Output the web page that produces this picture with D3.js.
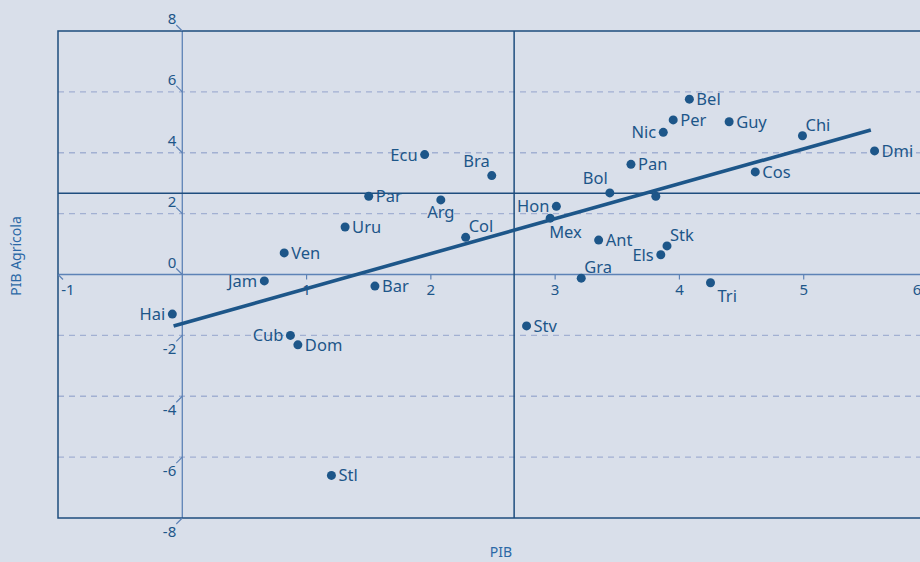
<!DOCTYPE html>
<html>
<head>
<meta charset="utf-8">
<script src="https://cdn.jsdelivr.net/npm/d3@7"></script>
<style>
  body { margin: 0; background: #d9dfea; }
  svg { display: block; font-family: "Noto Sans", "Open Sans", sans-serif; }
</style>
</head>
<body>
<div id="chart"></div>
<script>
// country codes, PIB growth (x) and agricultural PIB growth (y)
const countries = ["Hai", "Jam", "Ven", "Cub", "Dom", "Uru", "Stl", "Par", "Bar", "Ecu",
  "Arg", "Col", "Bra", "Stv", "Mex", "Hon", "Gra", "Ant", "Bol", "Pan",
  "", "Els", "Nic", "Stk", "Per", "Bel", "Tri", "Guy", "Cos", "Chi", "Dmi"];
const pib = [-0.08, 0.66, 0.82, 0.87, 0.93, 1.31, 1.20, 1.50, 1.55, 1.95,
  2.08, 2.28, 2.49, 2.77, 2.96, 3.01, 3.21, 3.35, 3.44, 3.61,
  3.81, 3.85, 3.87, 3.90, 3.95, 4.08, 4.25, 4.40, 4.61, 4.99, 5.57];
const pibAgricola = [-1.30, -0.21, 0.71, -2.00, -2.31, 1.56, -6.60, 2.57, -0.38, 3.94,
  2.45, 1.22, 3.25, -1.69, 1.85, 2.24, -0.12, 1.13, 2.68, 3.62,
  2.57, 0.65, 4.67, 0.94, 5.08, 5.76, -0.27, 5.02, 3.37, 4.56, 4.06];
// where the label sits relative to its dot
const labelPos = ["left", "left", "right", "left", "right", "right", "right", "right", "right", "left",
  "below", "aboveRight", "aboveLeft", "right", "belowStart", "left", "aboveRight", "right", "aboveLeft", "right",
  "right", "left", "left", "aboveRight", "right", "right", "belowRight", "right", "right", "aboveRight", "right"];

const xTicks = [-1, 1, 2, 3, 4, 5, 6];
const yTicks = [-8, -6, -4, -2, 0, 2, 4, 6, 8];
const trendX = [-0.07, 5.54];
const trendY = [-1.69, 4.75];
const meanPib = 2.67, meanAgricola = 2.67;

const width = 920, height = 562;
const margin = {top: 31, right: -8, bottom: 44, left: 58};

const dark = "#1d5689", navy = "#1e4d7e", axisBlue = "#5d82b6", gridBlue = "#a2b0d2";

const svg = d3.select("#chart").append("svg")
  .attr("width", width).attr("height", height)
  .style("background", "#d9dfea");

const x = d3.scaleLinear().domain([-1, 6]).range([margin.left, width - margin.right]);
const y = d3.scaleLinear().domain([-8, 8]).range([height - margin.bottom, margin.top]);

// dashed gridlines
svg.append("g").selectAll("line")
  .data(yTicks.filter(d => d !== 0 && Math.abs(d) !== 8))
  .join("line")
  .attr("x1", x(-1)).attr("x2", x(6))
  .attr("y1", d => y(d)).attr("y2", d => y(d))
  .attr("stroke", gridBlue).attr("stroke-width", 1.3)
  .attr("stroke-dasharray", "6,5");

// zero axes
svg.append("line")
  .attr("x1", x(0)).attr("x2", x(0)).attr("y1", y(8)).attr("y2", y(-8))
  .attr("stroke", axisBlue).attr("stroke-width", 1.3);
svg.append("line")
  .attr("x1", x(-1)).attr("x2", x(6)).attr("y1", y(0)).attr("y2", y(0))
  .attr("stroke", axisBlue).attr("stroke-width", 1.3);

// mean lines
svg.append("line")
  .attr("x1", x(meanPib)).attr("x2", x(meanPib)).attr("y1", y(8)).attr("y2", y(-8))
  .attr("stroke", navy).attr("stroke-width", 1.5);
svg.append("line")
  .attr("x1", x(-1)).attr("x2", x(6)).attr("y1", y(meanAgricola)).attr("y2", y(meanAgricola))
  .attr("stroke", navy).attr("stroke-width", 1.5);

// frame
svg.append("rect")
  .attr("x", x(-1)).attr("y", y(8))
  .attr("width", x(6) - x(-1)).attr("height", y(-8) - y(8))
  .attr("fill", "none").attr("stroke", navy).attr("stroke-width", 1.5);

// y ticks: slanted marks with labels off to the side
const yAxis = svg.append("g").attr("fill", dark).style("font-size", "15px");
yTicks.forEach(d => {
  const up = d >= 0;
  yAxis.append("line")
    .attr("x1", x(0) - 6).attr("y1", y(d) + (up ? -6 : 6))
    .attr("x2", x(0)).attr("y2", y(d))
    .attr("stroke", axisBlue).attr("stroke-width", 1.2);
  yAxis.append("text")
    .attr("x", x(0) - 6).attr("y", y(d) + (up ? -7 : 19))
    .attr("text-anchor", "end")
    .text(d);
});

// x ticks
const xAxis = svg.append("g").attr("fill", dark).style("font-size", "15px");
xTicks.forEach(d => {
  const edge = d === -1 ? 10 : d === 6 ? -11 : 0;
  xAxis.append("line")
    .attr("x1", x(d)).attr("x2", x(d) + (d === -1 ? 5 : 0))
    .attr("y1", y(0)).attr("y2", y(0) + 5)
    .attr("stroke", axisBlue).attr("stroke-width", 1.2);
  xAxis.append("text")
    .attr("x", x(d) + edge).attr("y", y(0) + 20)
    .attr("text-anchor", "middle")
    .text(d);
});

// trend line
svg.append("line")
  .attr("x1", x(trendX[0])).attr("y1", y(trendY[0]))
  .attr("x2", x(trendX[1])).attr("y2", y(trendY[1]))
  .attr("stroke", dark).attr("stroke-width", 3.6);

// points
const pts = countries.map((c, i) => ({name: c, px: pib[i], py: pibAgricola[i], pos: labelPos[i]}));

svg.append("g").selectAll("circle")
  .data(pts)
  .join("circle")
  .attr("cx", d => x(d.px)).attr("cy", d => y(d.py))
  .attr("r", 4.5).attr("fill", dark);

const offsets = {
  right: [7, 6, "start"],
  left: [-7, 6, "end"],
  below: [0, 18, "middle"],
  belowStart: [-1, 20, "start"],
  aboveRight: [3, -5, "start"],
  aboveLeft: [-2, -9, "end"],
  belowRight: [7, 19, "start"]
};

svg.append("g").attr("fill", dark).style("font-size", "16.5px")
  .selectAll("text")
  .data(pts.filter(d => d.name))
  .join("text")
  .attr("x", d => x(d.px) + offsets[d.pos][0])
  .attr("y", d => y(d.py) + offsets[d.pos][1])
  .attr("text-anchor", d => offsets[d.pos][2])
  .text(d => d.name);

// axis titles
svg.append("text")
  .attr("transform", `translate(21,256) rotate(-90)`)
  .attr("text-anchor", "middle")
  .attr("fill", "#2b68a6").style("font-size", "14px")
  .text("PIB Agrícola");

svg.append("text")
  .attr("x", 501).attr("y", 557)
  .attr("text-anchor", "middle")
  .attr("fill", "#2b68a6").style("font-size", "14px")
  .text("PIB");
</script>
</body>
</html>
